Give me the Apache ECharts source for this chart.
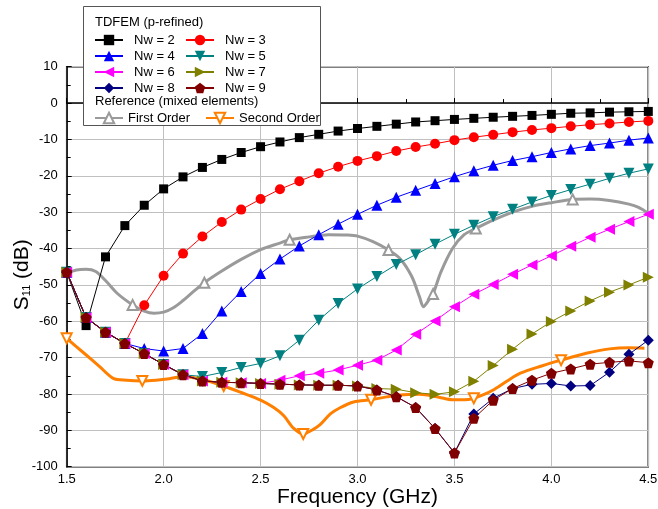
<!DOCTYPE html>
<html>
<head>
<meta charset="utf-8">
<script src="https://cdn.jsdelivr.net/npm/echarts@6/dist/echarts.min.js"></script>
<style>
  html, body { margin: 0; padding: 0; background: #fff; }
  #chart { width: 658px; height: 509px; }
</style>
</head>
<body>
<div id="chart"></div>
<script>
// frequency samples for the TDFEM runs (GHz)
const freq = [1.5, 1.6, 1.7, 1.8, 1.9, 2.0, 2.1, 2.2, 2.3, 2.4, 2.5, 2.6, 2.7, 2.8, 2.9, 3.0,
  3.1, 3.2, 3.3, 3.4, 3.5, 3.6, 3.7, 3.8, 3.9, 4.0, 4.1, 4.2, 4.3, 4.4, 4.5]

// S11 (dB) per Nw
const nw2 = [-46.5, -61.2, -42.3, -33.7, -28.1, -23.6, -20.3, -17.7, -15.5, -13.6, -12.0, -10.7, -9.5, -8.6, -7.7, -7.0,
  -6.4, -5.8, -5.2, -4.85, -4.5, -4.2, -3.9, -3.65, -3.4, -3.1, -2.8, -2.7, -2.5, -2.4, -2.3]
const nw3 = [-46.5, -59.0, -63.0, -66.1, -55.6, -47.5, -41.4, -36.7, -32.7, -29.3, -26.4, -23.7, -21.5, -19.3, -17.5, -15.9,
  -14.6, -13.2, -12.1, -11.2, -10.2, -9.4, -8.7, -8.0, -7.4, -6.9, -6.4, -5.95, -5.6, -5.2, -4.9]
const nw4 = [-46.5, -59.0, -63.0, -66.1, -67.5, -68.2, -67.5, -63.4, -57.2, -51.8, -46.9, -42.9, -39.3, -36.2, -33.3, -30.6,
  -28.1, -25.9, -24.0, -22.1, -20.25, -18.6, -17.1, -15.8, -14.75, -13.6, -12.6, -11.7, -11.0, -10.2, -9.6]
const nw5 = [-46.5, -59.0, -63.0, -66.1, -68.9, -71.9, -74.7, -75.2, -74.1, -72.7, -71.6, -69.5, -65.2, -59.7, -55.1, -51.1,
  -47.7, -44.4, -41.7, -38.8, -36.1, -33.6, -31.25, -29.2, -27.2, -25.4, -23.8, -22.3, -20.7, -19.3, -18.1]
const nw6 = [-46.5, -59.0, -63.0, -66.1, -68.9, -71.9, -74.7, -76.4, -76.8, -76.9, -77.1, -76.2, -75.0, -74.3, -73.4, -72.1,
  -70.7, -67.9, -63.6, -59.9, -56.0, -52.6, -49.9, -47.1, -44.5, -42.0, -39.4, -36.9, -34.7, -32.6, -30.6]
const nw7 = [-46.5, -59.0, -63.0, -66.1, -68.9, -71.9, -74.7, -76.4, -76.8, -76.9, -77.1, -77.3, -77.5, -77.6, -77.6, -77.8,
  -78.5, -78.7, -79.65, -80.1, -79.4, -76.5, -72.2, -67.7, -63.5, -60.1, -57.2, -54.4, -52.0, -50.0, -47.9]
const nw8 = [-46.5, -59.0, -63.0, -66.1, -68.9, -71.9, -74.7, -76.4, -76.8, -76.9, -77.1, -77.3, -77.5, -77.6, -77.6, -77.8,
  -78.9, -80.75, -83.7, -89.5, -96.2, -85.5, -81.2, -78.5, -77.35, -77.1, -77.8, -77.7, -74.0, -69.1, -65.2]
const nw9 = [-46.5, -59.0, -63.0, -66.1, -68.9, -71.9, -74.7, -76.4, -76.8, -76.9, -77.1, -77.3, -77.5, -77.6, -77.6, -77.8,
  -78.9, -80.75, -83.7, -89.5, -96.2, -86.7, -81.7, -78.5, -76.2, -74.3, -73.1, -71.8, -71.3, -70.9, -71.4]

// reference curves [GHz, dB]
const firstOrder = [[1.5, -46.8], [1.55, -45.9], [1.6, -45.7], [1.65, -46.3], [1.7, -48.8], [1.76, -52.3], [1.84, -55.5],
  [1.9, -57.2], [1.95, -57.8], [2.0, -57.5], [2.05, -56.3], [2.1, -54.3], [2.15, -52.0], [2.21, -49.4], [2.3, -46.2],
  [2.4, -43.0], [2.5, -40.3], [2.6, -38.5], [2.65, -37.6], [2.75, -36.8], [2.85, -36.2], [2.95, -36.3], [3.0, -36.6],
  [3.08, -38.1], [3.16, -40.4], [3.22, -42.8], [3.28, -47.7], [3.32, -53.3], [3.34, -56.0], [3.37, -54.0], [3.39, -52.5],
  [3.43, -46.5], [3.49, -40.0], [3.55, -36.2], [3.61, -34.5], [3.7, -32.2], [3.8, -30.0], [3.9, -28.4], [4.0, -27.4],
  [4.11, -26.5], [4.2, -26.4], [4.3, -26.8], [4.4, -27.8], [4.45, -28.7], [4.5, -30.3]]
const secondOrder = [[1.5, -64.7], [1.59, -68.8], [1.67, -72.5], [1.74, -75.7], [1.81, -76.2], [1.89, -76.4], [1.96, -76.2],
  [2.03, -75.8], [2.1, -75.2], [2.16, -75.6], [2.22, -76.3], [2.31, -77.8], [2.4, -79.6], [2.5, -81.7], [2.57, -83.8],
  [2.62, -86.0], [2.67, -89.4], [2.72, -91.0], [2.77, -89.8], [2.81, -88.3], [2.86, -85.5], [2.91, -83.8], [2.98, -82.2],
  [3.07, -81.6], [3.15, -80.8], [3.2, -80.4], [3.32, -80.1], [3.42, -80.9], [3.49, -81.6], [3.55, -81.6], [3.6, -81.2],
  [3.65, -80.2], [3.7, -78.9], [3.77, -76.5], [3.84, -74.3], [3.95, -72.3], [4.05, -70.7], [4.18, -68.8], [4.3, -67.6],
  [4.4, -67.3], [4.48, -67.4]]
// where the reference curves carry a marker
const firstMarks = [1.84, 2.21, 2.65, 3.16, 3.39, 3.61, 4.11]
const secondMarks = [1.5, 1.89, 2.31, 2.72, 3.07, 3.6, 4.05]

const pentagon = 'path://M0,-10L9.51,-3.09L5.88,8.09L-5.88,8.09L-9.51,-3.09Z'

const nwSeries = [
  { name: 'Nw = 2', vals: nw2, color: '#000000', symbol: 'rect', size: 9, rot: 0 },
  { name: 'Nw = 3', vals: nw3, color: '#ff0000', symbol: 'circle', size: 10, rot: 0 },
  { name: 'Nw = 4', vals: nw4, color: '#0000ff', symbol: 'triangle', size: 11, rot: 0 },
  { name: 'Nw = 5', vals: nw5, color: '#008080', symbol: 'triangle', size: 11, rot: 180 },
  { name: 'Nw = 6', vals: nw6, color: '#ff00ff', symbol: 'triangle', size: 11, rot: 90 },
  { name: 'Nw = 7', vals: nw7, color: '#808000', symbol: 'triangle', size: 11, rot: -90 },
  { name: 'Nw = 8', vals: nw8, color: '#000080', symbol: 'diamond', size: 11, rot: 0 },
  { name: 'Nw = 9', vals: nw9, color: '#800000', symbol: pentagon, size: 11, rot: 0 },
]

const refSeries = (name, pts, marks, color, rot) => ({
  name,
  type: 'line',
  smooth: 0.3,
  z: 1,
  symbol: 'emptyTriangle',
  symbolSize: 10,
  symbolRotate: rot,
  showAllSymbol: true,
  color,
  lineStyle: { color, width: 3 },
  itemStyle: { color, borderWidth: 1.2 },
  data: pts.map(p => (marks.includes(p[0]) ? { value: p } : { value: p, symbol: 'none' })),
})

const chart = echarts.init(document.getElementById('chart'))
const font = '"Liberation Sans", Arial, sans-serif'

chart.setOption({
  animation: false,
  textStyle: { fontFamily: font },
  grid: {
    left: 66.7, right: 9.7, top: 66.7, bottom: 42.3,
    outerBoundsMode: 'none',
    containLabel: false,
    show: true, borderColor: '#000', borderWidth: 1.5,
  },
  xAxis: {
    type: 'value',
    min: 1.5, max: 4.5, interval: 0.5,
    name: 'Frequency (GHz)',
    nameLocation: 'middle',
    nameMoveOverlap: false,
    nameGap: 20,
    nameTextStyle: { fontSize: 21, color: '#000' },
    axisLine: { lineStyle: { color: '#000', width: 1.5 } },
    axisTick: { inside: true, length: 5, lineStyle: { color: '#000' } },
    minorTick: { show: true, splitNumber: 2, length: 4, lineStyle: { color: '#000' } },
    axisLabel: { color: '#000', fontSize: 13, margin: 6, formatter: v => v.toFixed(1) },
    splitLine: { lineStyle: { color: '#c0c0c0', width: 1 } },
  },
  yAxis: {
    type: 'value',
    min: -100, max: 10, interval: 10,
    name: '{a|S}{b|11}{a| (dB)}',
    nameLocation: 'middle',
    nameMoveOverlap: false,
    nameGap: 34,
    nameTextStyle: {
      color: '#000',
      padding: [0, 16, 0, 0],
      rich: {
        a: { fontSize: 21, color: '#000', fontFamily: font },
        b: { fontSize: 11, color: '#000', fontFamily: font, padding: [10, 0, 0, 0] },
      },
    },
    axisLine: { lineStyle: { color: '#000', width: 1.5 } },
    axisTick: { inside: true, length: 5, lineStyle: { color: '#000' } },
    minorTick: { show: true, splitNumber: 2, length: 4, lineStyle: { color: '#000' } },
    axisLabel: { color: '#000', fontSize: 13, margin: 9 },
    splitLine: { lineStyle: { color: '#c0c0c0', width: 1 } },
  },
  graphic: {
    elements: [
      {
        type: 'rect', z: 3, silent: true,
        shape: { x: 83.5, y: 6.5, width: 237, height: 119 },
        style: { fill: '#fff', stroke: '#555', lineWidth: 1 },
      },
      {
        type: 'text', z: 5, left: 95, top: 16,
        style: { text: 'TDFEM (p-refined)', font: '13px ' + font, fill: '#000' },
      },
      {
        type: 'text', z: 5, left: 95, top: 95,
        style: { text: 'Reference (mixed elements)', font: '13px ' + font, fill: '#000' },
      },
    ],
  },
  legend: [
    { data: ['Nw = 2', 'Nw = 4', 'Nw = 6', 'Nw = 8'], left: 94, top: 32 },
    { data: ['Nw = 3', 'Nw = 5', 'Nw = 7', 'Nw = 9'], left: 185, top: 32 },
    { data: ['First Order'], left: 94, top: 110, textStyle: { padding: 0 } },
    { data: ['Second Order'], left: 205, top: 110, textStyle: { padding: 0 } },
  ].map(l => ({
    orient: 'vertical',
    padding: 0,
    itemGap: 0,
    itemWidth: 28,
    itemHeight: 13,
    z: 6,
    selectedMode: false,
    ...l,
    textStyle: { fontSize: 13, color: '#000', lineHeight: 16, padding: [0, 0, 0, 6], fontFamily: font, ...(l.textStyle || {}) },
  })),
  series: [
    refSeries('First Order', firstOrder, firstMarks, '#9a9a9a', 0),
    refSeries('Second Order', secondOrder, secondMarks, '#ff8000', 180),
    ...nwSeries.map(s => ({
      name: s.name,
      type: 'line',
      z: 2,
      symbol: s.symbol,
      symbolSize: s.size,
      symbolRotate: s.rot,
      color: s.color,
      lineStyle: { color: s.color, width: 1 },
      itemStyle: { color: s.color },
      data: freq.map((f, i) => [f, s.vals[i]]),
    })),
  ],
})
</script>
</body>
</html>
